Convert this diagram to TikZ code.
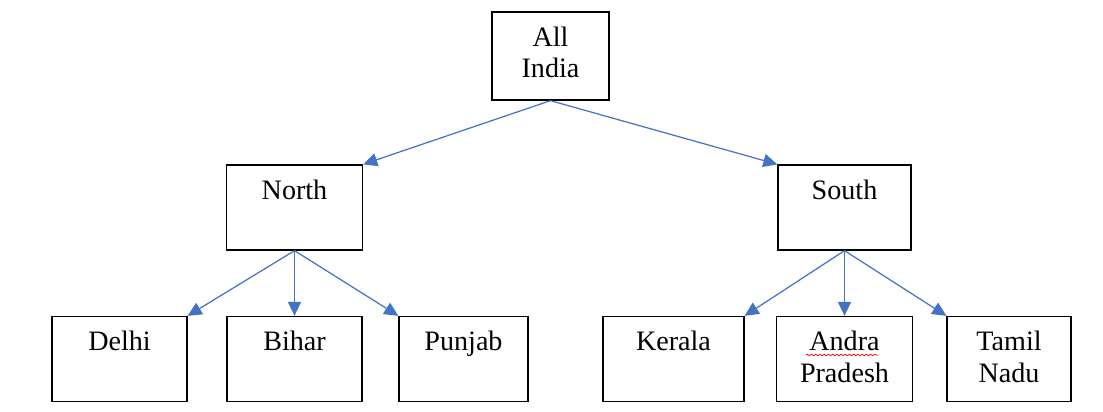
\documentclass[tikz,border=0pt]{standalone}
\usepackage{fontspec}
\setmainfont{Liberation Serif}
\usetikzlibrary{arrows.meta,positioning,decorations.pathmorphing}
\definecolor{arrowblue}{HTML}{4472C4}
\begin{document}
\begin{tikzpicture}[x=0.02cm,y=-0.02cm,
box/.style={draw, line width=0.75pt, minimum height=1.7cm, inner sep=0pt},
lbl/.style={anchor=north, inner sep=0pt, yshift=-0.30cm, align=center,
  font=\fontsize{16pt}{18pt}\selectfont},
arr/.style={draw=arrowblue, line width=0.7pt, -{Triangle[length=8pt,width=7.5pt]}},
spell/.style={draw=red, line width=0.4pt, decorate,
  decoration={snake, amplitude=0.45pt, segment length=2.4pt}}]
\useasboundingbox (0,0) rectangle (1103,412);
\node[box, minimum width=2.34cm, minimum height=1.76cm,
  label={[lbl]north:All\\India}] (india) at (550.5,56) {};
\node[box, minimum width=2.72cm, label={[lbl]north:North}] (north) at (294.5,207.5) {};
\node[box, minimum width=2.66cm, label={[lbl]north:South}] (south) at (844.5,207.5) {};
\node[box, minimum width=2.7cm, label={[lbl]north:Delhi}] (delhi) at (119.5,359) {};
\node[box, minimum width=2.7cm, label={[lbl]north:Bihar}] (bihar) at (294.5,359) {};
\node[box, minimum width=2.58cm, label={[lbl]north:Punjab}] (punjab) at (463.5,359) {};
\node[box, minimum width=2.82cm, label={[lbl]north:Kerala}] (kerala) at (673.5,359) {};
\node[box, minimum width=2.72cm, label={[lbl]north:Andra\\Pradesh}] (andra) at (844.5,359) {};
\node[box, minimum width=2.48cm, label={[lbl]north:Tamil\\Nadu}] (tamil) at (1009,359) {};
\draw[arr] (india.south)--(north.north east);
\draw[arr] (india.south)--(south.north west);
\draw[arr] (north.south)--(delhi.north east);
\draw[arr] (north.south)--(bihar.north);
\draw[arr] (north.south)--(punjab.north west);
\draw[arr] (south.south)--(kerala.north east);
\draw[arr] (south.south)--(andra.north);
\draw[arr] (south.south)--(tamil.north west);
% spell-check mark under Andra
\draw[spell] (806,355)--(878,355);
\end{tikzpicture}
\end{document}
